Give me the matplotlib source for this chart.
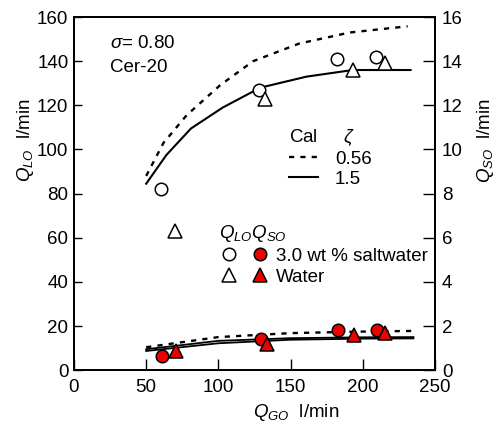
import numpy as np
import matplotlib
matplotlib.use('Agg')
import matplotlib.pyplot as plt
from matplotlib.legend_handler import HandlerTuple

plt.rcParams['font.family'] = ['Liberation Sans Narrow', 'Liberation Sans', 'DejaVu Sans']
plt.rcParams['mathtext.fontset'] = 'custom'
plt.rcParams['mathtext.rm'] = 'Liberation Sans'
plt.rcParams['mathtext.it'] = 'Liberation Sans:italic'
plt.rcParams['font.size'] = 13.5

# calculated Q_LO (left axis), zeta = 0.56 and 1.5
x_lo_dash = [50, 62, 78, 101, 124, 156, 191, 231]
q_lo_dash = [88, 103, 115.5, 129, 140, 148, 153, 155.8]
x_lo_solid = [50, 64, 81, 103, 129, 161, 193, 233]
q_lo_solid = [84.5, 97.5, 109.5, 119, 128, 133, 136, 136]

# calculated Q_SO (right axis)
x_so = [50, 100, 150, 200, 235]
q_so_dash = [1.04, 1.5, 1.68, 1.75, 1.78]
q_so_solid1 = [0.95, 1.33, 1.45, 1.49, 1.5]
q_so_solid2 = [0.87, 1.22, 1.38, 1.43, 1.44]

# measured, 3.0 wt % saltwater
x_salt_lo = [60, 128, 182, 209]
q_salt_lo = [82, 127, 141, 142]
x_salt_so = [61, 129.5, 182.5, 210]
q_salt_so = [0.63, 1.4, 1.81, 1.8]

# measured, water
x_water_lo = [70, 132, 193, 215]
q_water_lo = [63, 123, 136, 139]
x_water_so = [70.5, 133.5, 194, 215]
q_water_so = [0.86, 1.18, 1.59, 1.68]

fig = plt.figure(figsize=(5.03, 4.26), dpi=100)
ax = fig.add_axes([0.147, 0.131, 0.718, 0.829])
ax2 = ax.twinx()

dash = (2.2, 2.6)
l_dash, = ax.plot(x_lo_dash, q_lo_dash, color='k', lw=1.7, linestyle=(0, dash))
l_solid, = ax.plot(x_lo_solid, q_lo_solid, color='k', lw=1.5)
ax2.plot(x_so, q_so_dash, color='k', lw=1.7, linestyle=(0, dash))
ax2.plot(x_so, q_so_solid1, color='k', lw=1.3)
ax2.plot(x_so, q_so_solid2, color='k', lw=1.3)

ms = 9
o_circ, = ax.plot(x_salt_lo, q_salt_lo, 'o', ms=ms, mfc='white', mec='k', mew=1.1)
o_tri, = ax.plot(x_water_lo, q_water_lo, '^', ms=ms + 1, mfc='white', mec='k', mew=1.1)
r_circ, = ax2.plot(x_salt_so, q_salt_so, 'o', ms=ms, mfc='#ee0000', mec='k', mew=1.1)
r_tri, = ax2.plot(x_water_so, q_water_so, '^', ms=ms + 1, mfc='#ee0000', mec='k', mew=1.1)

ax.set_xlim(0, 250)
ax.set_ylim(0, 160)
ax2.set_ylim(0, 16)
ax.set_xticks([0, 50, 100, 150, 200, 250])
ax.set_yticks(range(0, 161, 20))
ax2.set_yticks(range(0, 17, 2))

for a in (ax, ax2):
    for s in a.spines.values():
        s.set_linewidth(1.4)
ax.tick_params(axis='y', direction='in', length=5.5, width=1, pad=4)
ax.tick_params(axis='x', direction='in', length=8, width=1, pad=6.5)
ax2.tick_params(axis='y', direction='in', length=9, width=1, pad=5)

ax.set_xlabel(r'$Q_{\mathit{GO}}$  l/min')
ax.xaxis.set_label_coords(0.615, -0.09)
ax.set_ylabel(r'$Q_{LO}$  l/min')
ax.yaxis.set_label_coords(-0.105, 0.65)
ax2.set_ylabel(r'$Q_{SO}$  l/min')
ax2.yaxis.set_label_coords(1.11, 0.65)

ax.text(0.10, 0.926, r'$\mathit{\sigma}$= 0.80', transform=ax.transAxes, va='center')
ax.text(0.10, 0.856, 'Cer-20', transform=ax.transAxes, va='center')

leg1 = ax2.legend([l_dash, l_solid], ['0.56', '1.5'], title='Cal     $\\zeta$',
                  loc='upper left', bbox_to_anchor=(0.57, 0.715), frameon=False,
                  borderpad=0, handlelength=1.55, handletextpad=0.9,
                  labelspacing=0.15, alignment='left')
ax2.add_artist(leg1)

ax2.legend([(o_circ, r_circ), (o_tri, r_tri)], ['3.0 wt % saltwater', 'Water'],
           title=r'$Q_{LO}Q_{SO}$', handler_map={tuple: HandlerTuple(ndivide=None, pad=0.6)},
           loc='upper left', bbox_to_anchor=(0.375, 0.443), frameon=False,
           borderpad=0, handlelength=2.75, handletextpad=0.3,
           labelspacing=0.2, alignment='left')

fig.savefig('out.png', dpi=100)
